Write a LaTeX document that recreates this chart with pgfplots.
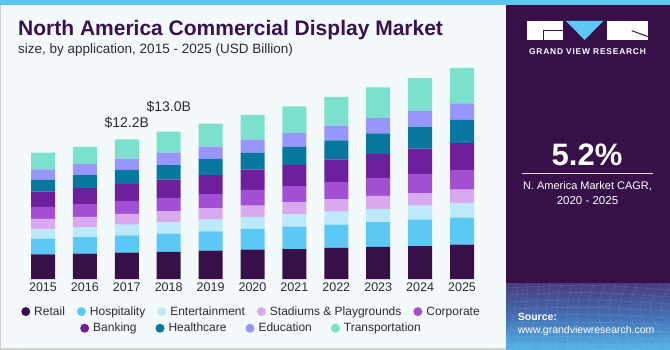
\documentclass[border=0pt]{standalone}
\usepackage{fontspec}
\setmainfont{Liberation Sans}
\newfontfamily\logofont[LetterSpace=9.5]{Liberation Sans}
\usepackage{pgfplots}
\usepackage{pgfplotstable}
\pgfplotsset{compat=1.18}
\definecolor{cret}{HTML}{37104A}
\definecolor{chos}{HTML}{5BC8F6}
\definecolor{cent}{HTML}{BDEAFB}
\definecolor{csta}{HTML}{D8A9EE}
\definecolor{ccor}{HTML}{A34FD4}
\definecolor{cban}{HTML}{6D1F9C}
\definecolor{chea}{HTML}{07779F}
\definecolor{cedu}{HTML}{9696FD}
\definecolor{ctra}{HTML}{7CE1CC}
\definecolor{bgc}{HTML}{F4F9FC}
\definecolor{panel}{HTML}{37104A}
\definecolor{gradtop}{HTML}{4A3A7E}
\definecolor{gradmid}{HTML}{4372B8}
\definecolor{gradbot}{HTML}{55B6E8}
\definecolor{titlec}{HTML}{3A1150}
\definecolor{topband}{HTML}{5EC6F0}
\definecolor{txt}{HTML}{2B2B2B}
\pgfplotstableread{
x ret hos ent sta cor ban hea edu tra
0 2.17 1.38 0.85 0.88 1.05 1.34 1.05 0.90 1.46
1 2.22 1.46 0.88 0.90 1.11 1.43 1.11 0.96 1.52
2 2.31 1.52 0.94 0.94 1.14 1.49 1.23 0.99 1.69
3 2.39 1.60 0.99 0.96 1.17 1.60 1.29 1.08 1.84
4 2.48 1.69 1.03 0.99 1.25 1.67 1.43 1.08 2.02
5 2.57 1.82 1.05 0.99 1.38 1.78 1.49 1.14 2.17
6 2.63 1.96 1.08 1.05 1.43 1.87 1.58 1.20 2.34
7 2.72 2.04 1.14 1.11 1.49 1.99 1.67 1.29 2.52
8 2.81 2.17 1.17 1.14 1.58 2.08 1.82 1.34 2.69
9 2.89 2.31 1.23 1.11 1.67 2.22 1.93 1.38 2.89
10 3.01 2.37 1.29 1.17 1.73 2.34 2.04 1.46 3.10
}\data
\begin{document}
\begin{tikzpicture}
% background
\fill[bgc] (0pt,0pt) rectangle (670pt,-350pt);
\fill[gray!35] (0pt,0pt) rectangle (1.2pt,-350pt);
\fill[gray!35] (0pt,-348pt) rectangle (670pt,-350pt);
% right panel
\fill[panel] (506pt,0pt) rectangle (670pt,-350pt);
\shade[top color=gradtop, bottom color=gradmid] (506pt,-283pt) rectangle (670pt,-318pt);
\shade[top color=gradmid, bottom color=gradbot] (506pt,-318pt) rectangle (670pt,-350pt);
\begin{scope}
\clip (506pt,-283pt) rectangle (670pt,-350pt);
\foreach \i in {0,...,16} {
  \draw[white, opacity=0.12, line width=0.5pt] (506pt+\i*11pt,-283pt) .. controls (506pt+\i*10pt,-310pt) .. (490pt+\i*13pt,-350pt);
}
\foreach \j in {0,...,9} {
  \draw[white, opacity=0.12, line width=0.5pt] (506pt,-288pt-\j*7pt) .. controls (590pt,-284pt-\j*7.5pt) .. (670pt,-290pt-\j*7pt);
}
\end{scope}
\fill[topband] (0pt,0pt) rectangle (670pt,-5pt);
% logo
\fill[white] (527.3pt,-21pt) rectangle (562.7pt,-40pt);
\draw[panel, line width=1pt] (543.5pt,-40pt) -- (543.5pt,-30.5pt) -- (562.7pt,-30.5pt);
\fill[chos] (566pt,-21pt) -- (603.3pt,-21pt) -- (584.6pt,-40pt) -- cycle;
\fill[white] (606.7pt,-21pt) rectangle (647.7pt,-40pt);
\draw[panel, line width=1pt] (631.7pt,-30.7pt) -- (647.7pt,-36.5pt);
\node[anchor=base, white, inner sep=0pt, font=\logofont\bfseries\fontsize{8.4}{10}\selectfont] at (587.5pt,-54.3pt) {GRAND VIEW RESEARCH};
% panel texts
\node[anchor=base, white, inner sep=0pt, font=\bfseries\fontsize{31}{34}\selectfont] at (587pt,-166pt) {5.2\%};
\draw[white!85!panel, line width=1pt] (521.7pt,-173.3pt) -- (652.7pt,-173.3pt);
\node[anchor=base, white, inner sep=0pt, font=\fontsize{11}{13}\selectfont] at (587.5pt,-190pt) {N. America Market CAGR,};
\node[anchor=base, white, inner sep=0pt, font=\fontsize{11.5}{13}\selectfont] at (587.5pt,-205pt) {2020 - 2025};
\node[anchor=base west, white, inner sep=0pt, font=\bfseries\fontsize{10.5}{12}\selectfont] at (517.7pt,-320pt) {Source:};
\node[anchor=base west, white, inner sep=0pt, font=\fontsize{10.5}{12}\selectfont] at (517.7pt,-333pt) {www.grandviewresearch.com};
% titles
\node[anchor=base west, titlec, inner sep=0pt, font=\bfseries\fontsize{21}{24}\selectfont] at (18pt,-36pt) {North America Commercial Display Market};
\node[anchor=base west, txt, inner sep=0pt, font=\fontsize{13.5}{16}\selectfont] at (18pt,-54pt) {size, by application, 2015 - 2025 (USD Billion)};
% chart
\begin{axis}[
  at={(17.86pt,-279pt)}, anchor=south west,
  x=41.9pt, y=11.4pt,
  xmin=-0.6, xmax=10.6, ymin=0, ymax=20,
  ybar stacked, bar width=24pt,
  clip=false,
  axis line style={draw=none},
  major tick length=0pt,
  ytick=\empty,
  xtick={0,...,10},
  xticklabels={2015,2016,2017,2018,2019,2020,2021,2022,2023,2024,2025},
  xticklabel style={font=\fontsize{12.5}{14}\selectfont, text=txt, anchor=north, inner sep=0pt, yshift=-4pt},
  /pgf/number format/assume math mode=true,
  legend image code/.code={\fill[#1] (4.5pt,0pt) circle (4.5pt);},
  legend columns=-1,
  legend style={at={(0.5,-0.143)}, anchor=center, draw=none, fill=none,
    font=\fontsize{12}{14}\selectfont, text=txt,
    nodes={inner xsep=4pt, inner ysep=1pt},
    /tikz/every even column/.append style={column sep=8pt}},
]
\addplot[fill=cret, draw=none] table[x=x, y=ret] {\data}; \addlegendentry{Retail}
\addplot[fill=chos, draw=none] table[x=x, y=hos] {\data}; \addlegendentry{Hospitality}
\addplot[fill=cent, draw=none] table[x=x, y=ent] {\data}; \addlegendentry{Entertainment}
\addplot[fill=csta, draw=none] table[x=x, y=sta] {\data}; \addlegendentry{Stadiums \& Playgrounds}
\addplot[fill=ccor, draw=none] table[x=x, y=cor] {\data}; \addlegendentry{Corporate}
\addplot[fill=cban, draw=none] table[x=x, y=ban] {\data};
\addplot[fill=chea, draw=none] table[x=x, y=hea] {\data};
\addplot[fill=cedu, draw=none] table[x=x, y=edu] {\data};
\addplot[fill=ctra, draw=none] table[x=x, y=tra] {\data};
\node[font=\fontsize{14}{16}\selectfont, text=txt, inner sep=0pt] at (axis cs:2,13.68) {\$12.2B};
\node[font=\fontsize{14}{16}\selectfont, text=txt, inner sep=0pt] at (axis cs:3,15.08) {\$13.0B};
\end{axis}
\begin{axis}[
  at={(17.86pt,-279pt)}, anchor=south west,
  x=41.9pt, y=11.4pt,
  xmin=-0.6, xmax=10.6, ymin=0, ymax=20,
  hide axis,
  legend image code/.code={\fill[#1] (4.5pt,0pt) circle (4.5pt);},
  legend columns=-1,
  legend style={at={(0.5,-0.216)}, anchor=center, draw=none, fill=none,
    font=\fontsize{12}{14}\selectfont, text=txt,
    nodes={inner xsep=4pt, inner ysep=1pt},
    /tikz/every even column/.append style={column sep=15pt}},
]
\addlegendimage{fill=cban, draw=none} \addlegendentry{Banking}
\addlegendimage{fill=chea, draw=none} \addlegendentry{Healthcare}
\addlegendimage{fill=cedu, draw=none} \addlegendentry{Education}
\addlegendimage{fill=ctra, draw=none} \addlegendentry{Transportation}
\end{axis}
\end{tikzpicture}
\end{document}
